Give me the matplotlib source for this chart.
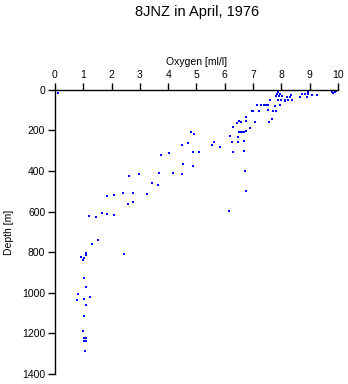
import numpy as np
import matplotlib.pyplot as plt

plt.rcParams['font.family'] = ['Liberation Sans', 'DejaVu Sans']

# Oxygen [ml/l] and depth [m]
oxygen = [0.0, 0.1,
          1.19, 1.46, 1.67, 1.83, 2.1, 1.84, 2.08, 2.4, 2.76, 2.59, 2.77,
          2.63, 2.96, 3.26, 3.44, 3.65, 3.67, 3.76, 4.02, 4.18, 4.5, 4.53,
          4.5, 4.71, 4.82, 4.91, 4.88, 4.89, 5.1, 5.54, 5.63, 5.84, 6.16,
          6.2, 6.27, 6.3, 6.3, 6.44, 6.51, 6.58, 6.48, 6.48,
          6.5, 6.56, 6.62, 6.68, 6.75, 6.67, 6.69, 6.73, 6.74, 6.76, 6.76,
          6.89, 7.08, 6.96, 7.0, 7.15, 7.22, 7.28, 7.38, 7.47, 7.54, 7.54,
          7.57, 7.66, 7.61, 7.7, 7.8, 7.79, 7.81, 7.82, 7.85, 7.9, 7.95,
          7.93, 7.96, 7.88, 8.0, 8.12, 8.25, 8.37, 8.12, 8.03, 8.2, 8.34,
          8.32, 8.66, 8.7, 8.72, 8.84, 8.96, 8.95, 8.92, 9.09, 9.27, 9.62,
          9.67, 9.8, 9.84, 9.9, 9.94, 9.97,
          1.52, 1.32, 1.11, 1.1, 2.44, 0.92, 1.01, 1.0, 1.01, 1.11, 0.82,
          0.78, 1.01, 1.25, 1.11, 1.01, 1.0, 1.02, 1.1, 1.02, 1.09, 1.07]
depth = [0, 15,
         620, 625, 606, 610, 618, 522, 517, 508, 508, 563, 553,
         422, 416, 514, 460, 468, 411, 321, 311, 409, 413, 365,
         270, 262, 208, 216, 306, 375, 308, 272, 257, 281, 596,
         228, 257, 308, 182, 164, 154, 157, 234, 257,
         206, 206, 206, 206, 204, 252, 301, 400, 496, 134, 154,
         190, 159, 103, 103, 75, 105, 75, 75, 75, 75, 100,
         156, 144, 51, 105, 105, 79, 2, 29, 20, 13, 18,
         29, 77, 52, 52, 52, 52, 52, 57, 28, 33, 25,
         33, 33, 2, 21, 21, 21, 11, 33, 23, 23, 2,
         2, 10, 15, 11, 6, 2,
         738, 760, 806, 812, 807, 824, 830, 837, 925, 969, 1004,
         1033, 1028, 1023, 1058, 1112, 1186, 1223, 1225, 1238, 1236, 1289]

fig = plt.figure(figsize=(3.48, 3.84), dpi=100)
ax = fig.add_axes([0.158, 0.026, 0.813, 0.74])

ax.plot(oxygen, depth, 's', color='#0000ff', markersize=2.0, markeredgewidth=0)

ax.set_xlim(0, 10)
ax.set_ylim(1400, 0)
ax.xaxis.set_ticks_position('top')
ax.xaxis.set_label_position('top')
ax.set_xticks(np.arange(0, 11, 1))
ax.set_yticks(np.arange(0, 1401, 200))
ax.spines['right'].set_visible(False)
ax.spines['bottom'].set_visible(False)
for s in ['top', 'left']:
    ax.spines[s].set_linewidth(1.0)
ax.tick_params(axis='both', direction='out', length=5, width=1, labelsize=7.5, pad=2)
ax.set_xlabel('Oxygen [ml/l]', fontsize=7.5, labelpad=4)
ax.set_ylabel('Depth [m]', fontsize=7.5, labelpad=6)

fig.text(0.565, 0.969, '8JNZ in April, 1976', ha='center', va='center', fontsize=10.5)

fig.savefig('out.png', dpi=100)
